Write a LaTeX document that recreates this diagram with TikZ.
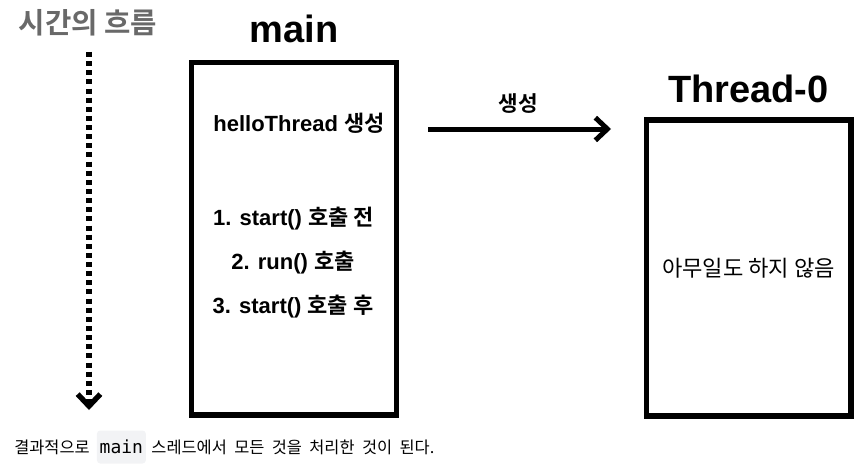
\documentclass[tikz,border=0pt]{standalone}
\usepackage{fontspec}
\setmainfont{Liberation Sans}
\newfontfamily\ko{Noto Sans CJK KR}[BoldFont={Noto Sans CJK KR Bold}]
\newfontfamily\mono{DejaVu Sans Mono}
\usetikzlibrary{arrows.meta}
\definecolor{timegray}{RGB}{105,105,105}
\definecolor{codebg}{RGB}{242,243,245}
\tikzset{
  titletext/.style={font=\bfseries\fontsize{28.5}{30}\selectfont, inner sep=0pt, anchor=base},
  boxtext/.style={font=\bfseries\fontsize{16.5}{18}\selectfont, inner sep=0pt, anchor=base},
  threadbox/.style={draw=black, line width=3.9pt, inner sep=0pt},
  captext/.style={font=\ko\fontsize{12.3}{14}\selectfont, inner sep=0pt, anchor=base west},
  codebox/.style={fill=codebg, rounded corners=2.5pt, inner xsep=2.1pt, inner ysep=0pt,
    font=\mono\fontsize{13.5}{14}\selectfont, anchor=base west},
  bigarrow/.style={line width=3.75pt, -{Straight Barb[length=9pt,width=17pt]}},
  timearrow/.style={line width=4pt, dash pattern=on 3.75pt off 3.1pt, -{Straight Barb[length=9pt,width=17pt]}}
}
\begin{document}
\begin{tikzpicture}[x=0.75pt,y=-0.75pt]
\useasboundingbox (0,0) rectangle (863,467);
% time axis
\node[anchor=base, inner sep=0pt, text=timegray, font=\ko\bfseries\fontsize{21.5}{22}\selectfont] (time) at (88,34) {시간의 흐름};
\coordinate (t1) at (89,52);
\coordinate (t2) at (89,410);
\draw[timearrow] (t1) -- (t2);
% main
\node[titletext] (mainT) at (294,43) {main};
\node[threadbox, minimum width=153.75pt, minimum height=264.4pt] (mainbox) at (294,238.75) {};
\node[boxtext] (hello) at (299,131) {helloThread {\ko 생성}};
\node[boxtext] (s1) at (293.5,225) {1. start() {\ko 호출 전}};
\node[boxtext] (s2) at (293,269) {2. run() {\ko 호출}};
\node[boxtext] (s3) at (293,313) {3. start() {\ko 호출 후}};
% arrow
\coordinate (a1) at (428,129);
\coordinate (a2) at (611,129);
\draw[bigarrow] (a1) -- (a2);
\node[anchor=base, inner sep=0pt, font=\ko\bfseries\fontsize{16}{17}\selectfont] (make) at (518.5,111) {생성};
% Thread-0
\node[titletext] (thrT) at (748.5,102) {Thread-0};
\node[threadbox, line width=4.1pt, minimum width=153.4pt, minimum height=222pt] (thrbox) at (748.75,268) {};
\node[anchor=base, inner sep=0pt, font=\ko\fontsize{16.6}{18}\selectfont] (nothing) at (748.5,276) {아무일도 하지 않음};
% caption
\node[captext] (c1) at (14,453.5) {결과적으로};
\node[codebox] (code) at ([xshift=5pt]c1.base east) {\rule[-7.5pt]{0pt}{24.75pt}main};
\node[captext] (c2) at ([xshift=3.8pt]code.base east) {\spaceskip=0.45em\relax 스레드에서 모든 것을 처리한 것이 된다.};
\end{tikzpicture}
\end{document}
